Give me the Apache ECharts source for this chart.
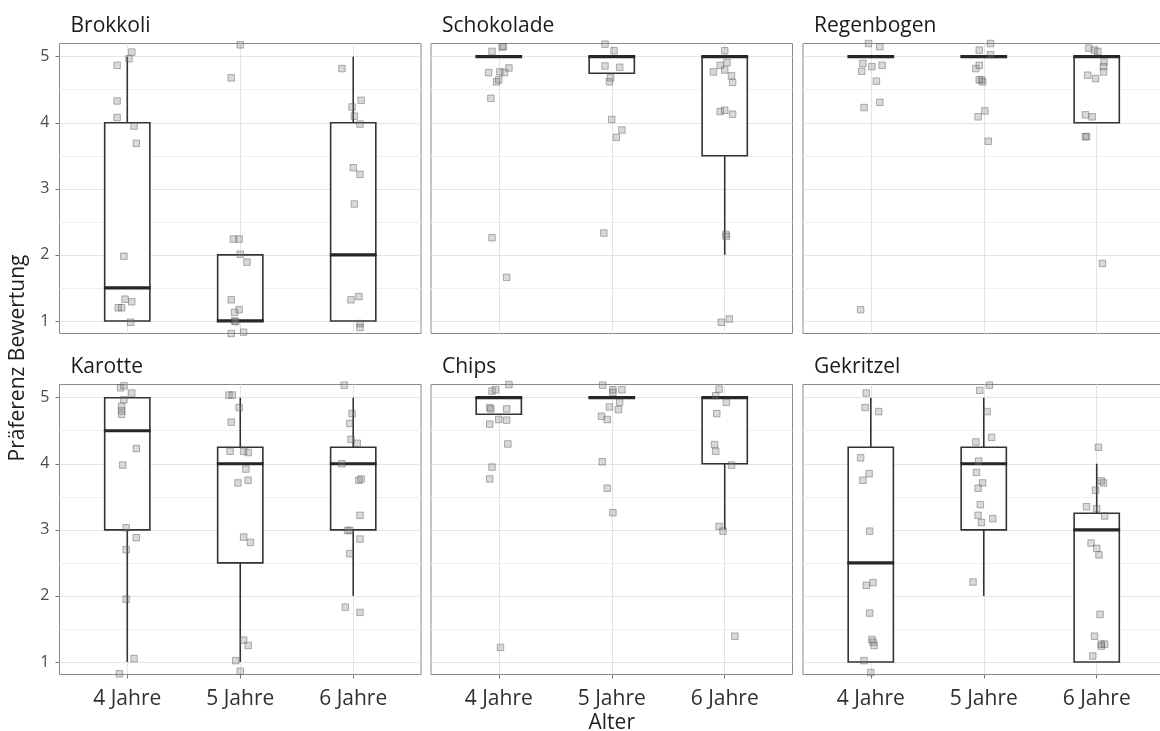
<!DOCTYPE html>
<html>
<head>
<meta charset="utf-8">
<script src="https://cdn.jsdelivr.net/npm/echarts@6/dist/echarts.min.js"></script>
<style>
  html, body { margin: 0; padding: 0; background: #fff; }
  #chart { width: 1160px; height: 731px; }
</style>
</head>
<body>
<div id="chart"></div>
<script>
// Age groups on the x axis (positions 1, 2, 3)
const ages = ['4 Jahre', '5 Jahre', '6 Jahre'];
const foods = ['Brokkoli', 'Schokolade', 'Regenbogen', 'Karotte', 'Chips', 'Gekritzel'];
const yTicks = [1, 2, 3, 4, 5];
const yMinor = [1.5, 2.5, 3.5, 4.5];

// Box statistics per age group: [lower whisker, Q1, median, Q3, upper whisker]
const brokkoliBox   = [[1, 1, 1.5, 4, 5], [1, 1, 1, 2, 2], [1, 1, 2, 4, 5]];
const schokoladeBox = [[5, 5, 5, 5, 5], [4.75, 4.75, 5, 5, 5], [2, 3.5, 5, 5, 5]];
const regenbogenBox = [[5, 5, 5, 5, 5], [5, 5, 5, 5, 5], [4, 4, 5, 5, 5]];
const karotteBox    = [[1, 3, 4.5, 5, 5], [1, 2.5, 4, 4.25, 5], [2, 3, 4, 4.25, 5]];
const chipsBox      = [[4.75, 4.75, 5, 5, 5], [5, 5, 5, 5, 5], [3, 4, 5, 5, 5]];
const gekritzelBox  = [[1, 1, 2.5, 4.25, 5], [2, 3, 4, 4.25, 5], [1, 1, 3, 3.25, 4]];

// Individual ratings, jittered: [age position + jitter, rating + jitter]
const brokkoliPts = [
  [1.04, 5.07], [1.015, 4.97], [0.91, 4.87], [0.91, 4.33], [0.91, 4.08], [1.06, 3.95], [1.08, 3.69],
  [0.97, 1.98], [0.98, 1.33], [1.04, 1.29], [0.92, 1.2], [0.95, 1.2], [1.03, 0.98],
  [2.0, 5.18], [1.92, 4.68], [1.94, 2.24], [1.99, 2.24], [2.0, 2.01], [2.06, 1.89], [1.92, 1.32],
  [1.99, 1.17], [1.95, 1.13], [1.95, 1.0], [1.96, 0.99], [1.92, 0.81], [2.03, 0.83],
  [2.9, 4.82], [3.07, 4.34], [2.99, 4.24], [3.01, 4.10], [3.06, 3.98], [3.0, 3.32], [3.06, 3.22],
  [3.01, 2.77], [2.98, 1.32], [3.05, 1.37], [3.06, 0.96], [3.06, 0.90]
];
const schokoladePts = [
  [1.03, 5.15], [1.04, 5.15], [0.94, 5.08], [0.91, 4.76], [1.01, 4.77], [1.05, 4.76], [1.09, 4.83],
  [1.0, 4.65], [0.98, 4.62], [0.93, 4.37], [0.94, 2.26], [1.07, 1.66],
  [1.94, 5.19], [2.02, 5.09], [1.94, 4.86], [2.07, 4.84], [1.99, 4.68], [1.98, 4.62], [2.0, 4.05],
  [2.09, 3.89], [2.04, 3.78], [1.93, 2.33],
  [3.0, 5.09], [3.02, 4.91], [2.96, 4.87], [3.0, 4.8], [2.9, 4.77], [3.06, 4.71], [3.07, 4.61],
  [2.96, 4.17], [3.0, 4.19], [3.07, 4.13], [3.01, 2.31], [3.015, 2.28], [2.97, 0.98], [3.04, 1.03]
];
const regenbogenPts = [
  [0.98, 5.2], [1.08, 5.15], [0.93, 4.9], [1.01, 4.85], [1.1, 4.87], [0.92, 4.78], [1.05, 4.63],
  [1.08, 4.31], [0.94, 4.23], [0.91, 1.17],
  [1.96, 5.1], [2.06, 5.2], [2.06, 5.03], [1.93, 4.82], [1.96, 4.87], [1.98, 4.65], [1.99, 4.62],
  [1.96, 4.65], [2.01, 4.18], [1.95, 4.09], [2.04, 3.72],
  [2.93, 5.13], [2.98, 5.1], [3.01, 5.08], [3.065, 4.92], [3.06, 4.85], [3.06, 4.77], [2.92, 4.72],
  [2.99, 4.67], [2.9, 4.12], [2.96, 4.09], [2.9, 3.79], [2.91, 3.79], [3.05, 1.87]
];
const karottePts = [
  [0.94, 5.15], [0.97, 5.18], [1.04, 5.07], [0.97, 4.97], [0.95, 4.87], [0.95, 4.8], [0.95, 4.75],
  [1.08, 4.23], [0.96, 3.98], [0.99, 3.03], [1.08, 2.88], [0.99, 2.70], [0.99, 1.95], [1.06, 1.05], [0.93, 0.82],
  [1.9, 5.04], [1.93, 5.04], [1.99, 4.85], [1.92, 4.63], [1.91, 4.19], [2.03, 4.19], [2.07, 4.17],
  [2.05, 3.92], [1.98, 3.71], [2.07, 3.75], [2.03, 2.89], [2.09, 2.81], [2.03, 1.33], [2.07, 1.25],
  [1.96, 1.02], [2.0, 0.86],
  [2.92, 5.19], [2.99, 4.76], [2.97, 4.61], [2.98, 4.37], [3.035, 4.31], [2.9, 4.0], [3.05, 3.75],
  [3.07, 3.77], [3.06, 3.22], [2.95, 2.99], [2.97, 2.99], [3.06, 2.86], [2.97, 2.64], [2.93, 1.83], [3.06, 1.75]
];
const chipsPts = [
  [0.94, 5.1], [0.97, 5.12], [1.09, 5.2], [0.92, 4.85], [0.93, 4.83], [1.07, 4.83], [1.0, 4.67],
  [1.07, 4.66], [0.92, 4.6], [1.08, 4.3], [0.94, 3.95], [0.92, 3.77], [1.015, 1.22],
  [1.92, 5.19], [2.01, 5.12], [2.01, 5.08], [2.09, 5.12], [2.07, 4.93], [1.98, 4.86], [2.06, 4.82],
  [1.91, 4.72], [1.96, 4.67], [1.915, 4.03], [1.96, 3.63], [2.01, 3.26],
  [2.95, 5.13], [2.92, 5.03], [3.015, 4.93], [2.93, 4.76], [2.91, 4.29], [2.92, 4.19], [3.06, 3.98],
  [2.95, 3.05], [2.985, 2.98], [3.09, 1.39]
];
const gekritzelPts = [
  [0.96, 5.07], [0.95, 4.85], [1.07, 4.79], [0.91, 4.09], [0.985, 3.85], [0.93, 3.75], [0.99, 2.98],
  [0.96, 2.16], [1.02, 2.2], [0.99, 1.74], [1.01, 1.34], [1.02, 1.3], [1.03, 1.25], [0.94, 1.02], [1.0, 0.84],
  [2.05, 5.19], [1.965, 5.11], [2.03, 4.79], [2.07, 4.4], [1.93, 4.33], [1.955, 4.04], [1.935, 3.87],
  [1.99, 3.71], [1.95, 3.63], [1.97, 3.38], [1.95, 3.22], [1.98, 3.11], [2.08, 3.17], [1.905, 2.21],
  [3.015, 4.25], [3.04, 3.74], [3.06, 3.71], [2.99, 3.6], [2.91, 3.35], [3.0, 3.32], [3.07, 3.21],
  [2.95, 2.8], [3.0, 2.72], [3.02, 2.62], [3.03, 1.72], [2.98, 1.39], [3.04, 1.27], [3.07, 1.27],
  [3.04, 1.24], [2.965, 1.09]
];

const boxes = [brokkoliBox, schokoladeBox, regenbogenBox, karotteBox, chipsBox, gekritzelBox];
const points = [brokkoliPts, schokoladePts, regenbogenPts, karottePts, chipsPts, gekritzelPts];

// Facet layout (pixels)
const colLeft = [59.5, 431, 803];
const rowTop = [43.5, 384.5];
const panelW = 361.5;
const panelH = 290;
const BOX_W = 0.4;
const FONT = '"Open Sans", "DejaVu Sans", sans-serif';
const INK = '#333333';

const chart = echarts.init(document.getElementById('chart'), null, { renderer: 'canvas' });

// Box, whiskers and median drawn as filled rectangles in pixel space
function renderBox(params, api) {
  const x = api.value(0);
  const lo = api.value(1), q1 = api.value(2), md = api.value(3), q3 = api.value(4), hi = api.value(5);
  const half = api.size([BOX_W, 0])[0] / 2;
  const cx = api.coord([x, md])[0];
  const yLo = api.coord([x, lo])[1];
  const yQ1 = api.coord([x, q1])[1];
  const yMd = api.coord([x, md])[1];
  const yQ3 = api.coord([x, q3])[1];
  const yHi = api.coord([x, hi])[1];
  const lw = 1.6, mw = 3.2;
  const children = [];
  if (hi > q3) children.push({
    type: 'rect', z2: 0, shape: { x: cx - lw / 2, y: yHi, width: lw, height: yQ3 - yHi },
    style: { fill: INK }
  });
  if (lo < q1) children.push({
    type: 'rect', z2: 0, shape: { x: cx - lw / 2, y: yQ1, width: lw, height: yLo - yQ1 },
    style: { fill: INK }
  });
  children.push({
    type: 'rect', z2: 1,
    shape: { x: cx - half, y: yQ3, width: half * 2, height: yQ1 - yQ3 },
    style: { stroke: INK, lineWidth: lw, fill: '#fff' }
  });
  children.push({
    type: 'rect', z2: 2,
    shape: { x: cx - half - lw / 2, y: yMd - mw / 2, width: half * 2 + lw, height: mw },
    style: { fill: '#262626' }
  });
  return { type: 'group', children };
}

const grids = [], xAxes = [], yAxes = [], series = [], titles = [];

foods.forEach((food, i) => {
  const col = i % 3, row = Math.floor(i / 3);
  const left = colLeft[col], top = rowTop[row];
  grids.push({
    left: left, top: top, width: panelW, height: panelH,
    outerBoundsMode: 'none', containLabel: false,
    show: true, borderColor: '#8a8a8a', borderWidth: 1, backgroundColor: 'transparent'
  });
  const bottomRow = row === 1, leftCol = col === 0;
  xAxes.push({
    type: 'value', gridIndex: i, min: 0.4, max: 3.6,
    splitLine: { show: false },
    axisLine: { show: false },
    axisTick: { show: bottomRow, customValues: [1, 2, 3], length: 4, lineStyle: { color: '#777', width: 1 } },
    axisLabel: {
      show: bottomRow, customValues: [1, 2, 3], margin: 14,
      formatter: v => ages[Math.round(v) - 1] || '',
      color: '#303030', fontSize: 21, fontFamily: FONT
    },
    name: (i === 4) ? 'Alter' : '',
    nameLocation: 'middle', nameGap: 38,
    nameTextStyle: { color: '#1f1f1f', fontSize: 21, fontFamily: FONT }
  });
  yAxes.push({
    type: 'value', gridIndex: i, min: 0.81, max: 5.2,
    splitLine: { show: false },
    axisLine: { show: false },
    axisTick: { show: leftCol, customValues: yTicks, length: 4, lineStyle: { color: '#777', width: 1 } },
    axisLabel: {
      show: leftCol, customValues: yTicks, margin: 10,
      color: '#4d4d4d', fontSize: 16, fontFamily: FONT
    }
  });
  // background grid lines of the panel, kept beneath the boxes
  const gridLines = [];
  yMinor.forEach(v => gridLines.push({ yAxis: v, lineStyle: { color: '#f2f2f2', width: 1, type: 'solid' } }));
  yTicks.forEach(v => gridLines.push({ yAxis: v, lineStyle: { color: '#e4e4e4', width: 1, type: 'solid' } }));
  [1, 2, 3].forEach(v => gridLines.push({ xAxis: v, lineStyle: { color: '#e4e4e4', width: 1, type: 'solid' } }));
  series.push({
    type: 'scatter', xAxisIndex: i, yAxisIndex: i, data: [], silent: true, z: 0,
    markLine: { z: 0, silent: true, symbol: 'none', label: { show: false }, animation: false, data: gridLines }
  });
  series.push({
    type: 'custom', xAxisIndex: i, yAxisIndex: i, z: 2,
    renderItem: renderBox,
    encode: { x: 0, y: [1, 2, 3, 4, 5] },
    data: boxes[i].map((b, k) => [k + 1].concat(b)),
    animation: false
  });
  series.push({
    type: 'scatter', xAxisIndex: i, yAxisIndex: i, z: 3,
    symbol: 'rect', symbolSize: 6.5,
    itemStyle: { color: 'rgba(130,130,130,0.38)', borderColor: 'rgba(85,85,85,0.55)', borderWidth: 1 },
    data: points[i],
    animation: false
  });
  titles.push({
    text: food, left: left + 11, top: top - 28, padding: 0,
    textStyle: { color: '#1a1a1a', fontSize: 21, fontWeight: 'normal', fontFamily: FONT }
  });
});

chart.setOption({
  animation: false,
  title: titles,
  grid: grids,
  xAxis: xAxes,
  yAxis: yAxes,
  series: series,
  graphic: [{
    type: 'text', x: 18, y: 358, rotation: Math.PI / 2,
    style: {
      text: 'Präferenz Bewertung', align: 'center', verticalAlign: 'middle',
      fill: '#1f1f1f', fontSize: 21, fontFamily: FONT
    }
  }]
});
</script>
</body>
</html>
